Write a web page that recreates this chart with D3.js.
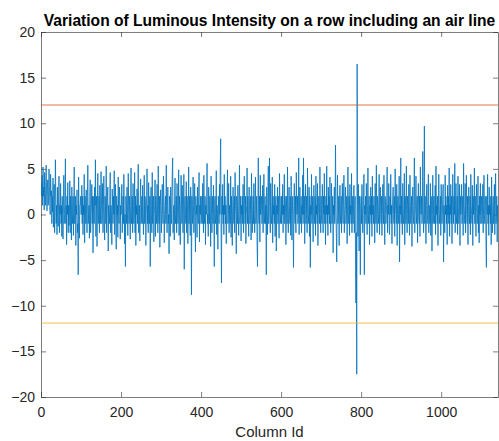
<!DOCTYPE html>
<html>
<head>
<meta charset="utf-8">
<script src="https://cdn.jsdelivr.net/npm/d3@7"></script>
<style>
  body { margin: 0; background: #fff; }
  svg { display: block; font-family: "Liberation Sans", Arial, sans-serif; }
  .axis text { font-size: 14px; fill: #262626; }
  .axis path, .axis line { stroke: #262626; stroke-width: 0.6; }
  .chart-title { font-size: 15.6px; font-weight: bold; fill: #000; }
  .axis-title { font-size: 15px; fill: #262626; }
</style>
</head>
<body>
<svg id="chart"></svg>
<script>
// luminous intensity variation, one value per column (column 1..)
const intensity = [
  3.4,2,4.3,1,5.2,2,3,0.5,4.6,2, 1,3.6,5.4,2,0.4,3,3.8,1,2,5, 3.2,1,0,4.4,2,2.6,-1,2,0.3,4, -1.4,1,3.3,-2,0,6,2,-1,1,-2.2, 3,0,-1.3,2,4.2,-2,1,0,3.4,-1,
  1,-2.4,2,0,-2.7,1,4.3,-1,0,2.4, 6.1,-1,1,-3.3,2,0,3.5,-2,1,-1.2, 0,3.7,-2,2,1,-2.8,3,0,-1,2, -2.3,1,5.2,-1,0,2,-3.4,1,0,2.7, -2,-1,-6.6,4.1,0,-2.6,1,1,2,0,
  0,3.2,-1,2,-2.2,1,0,4.4,-3.1,2, 1,-1,2.7,0,-2,2,5.4,-1,0,1, -2.6,2,3.8,-2,0,1,3.3,-1,2,-4.2, 0,2,-1,3,1,6,-2.4,0,2,-3.5, 1,4.5,-1,0,2,-2,3.2,1,-1,4.7,
  2,-1,0,3.4,-2,1,4.2,0,-2.8,2, 1,-1,5.3,-2,0,2,3,-4,1,0, -1,2,4.6,-2,1,0,-3.3,2.8,1,-1, 2,0,4.8,-2.2,1,3.3,-1,-3.8,2,0, 1,-2.5,4.1,0,-1,3,2,-2.7,1,0,
  1,3.3,-2,0,2,-1,4.4,1,-3.2,0, -5.7,2,1,-1,3,0,-2.3,4.5,1,-1, 2,0,-2.7,1,5.1,-1,0,2,-2,3.4, 1,-1,0,4.6,-2,2,-3.4,1,0,2.8, -1,2,5.5,-2,0,1,-2.9,2,3.9,-1,
  0,2,-1,3.2,1,-2.2,0,4.3,-1,2, 1,-3.4,0,2,5,-1,1,-2,3.5,0, -1,2,-5.7,1,3,0,-2,4.6,-1,1, 2,-3,0,1,3.8,-2.4,2,0,-1,3.3, 1,-2,5.3,0,-1,2,-3.6,1,2.7,0,
  -2,1,3.3,0,-1,4.2,2,-3.1,0,1, 2,-1,5.4,0,-2,1,3,-1,0,-4.3, 2,1,-2.4,3,0,-1,2,4.5,6.2,-2, 0,1,-2.8,2,4,-1,0,2,-2,3.4, 1,-1,0,4.9,-2.3,2,1,-3.3,0,4.3,
  2,-1,3.2,0,-2,1,4.4,-6,1,2, 0,-1,3.6,-2,2,1,-3.2,0,5.2,-1, 2,0,-2.3,3,1,-8.8,2,0,-1,4.1, 1,-2,0,3.4,-1,-4.1,2,0,1,-2.5, 3,0,-1,2,4.6,-3,1,0,2,-1,
  0,2,-1,3.4,1,-2,4.3,0,-1,2, -3.3,1,0,2,5.6,-1,0,-2.4,3,1, -1,2,0,-3.5,4.2,1,-2,0,2,-1, 3.2,0,-5.7,1,2,-1,0,4.8,-2.2,1, 0,-3.8,2,1,-1,3.3,0,5.3,8.3,-2,
  -7.5,2,0,3.3,-1,1,-2.2,4.4,0,2, -1,1,-3.2,0,2,4.9,-1,0,3.4,-2, 1,0,-1,4.2,-2.5,2,0,-3.4,1,3, 0,-1,2,-2,4.6,1,0,-4.3,2,1, -1,3.2,0,-2.3,1,5.4,-1,0,2,-2.9,
  1,0,2,-1,3.3,-2,0,4.2,1,-1, 2,-3.2,0,1,5.1,-1,2,0,-2.4,3, 1,-1,0,2,-2.8,4.5,1,-2,0,2, -1,3.4,0,-2,1,4.1,-1,0,2,-3.4, -5.7,1,6.2,0,-1,2,-3,4.3,0,1,
  2,-1,0,3.2,-2,1,4.4,-1,0,2, -1,1,-6.6,3,0,-2.2,2,5.3,-1,1, 6.2,0,-2,3.4,1,-1,0,4.1,-3.1,2, 0,1,-1,3.3,-2.4,0,2,-4,1,0, 3,-1,2,0,-2.6,4.5,1,-1,0,2,
  -1,2,0,3.3,-2,1,0,4.4,-1,2, 1,-3.3,0,2,-1,5.2,0,-2,1,3, 0,-1,2,-2.3,4.2,1,-2.8,0,2,-1, -5.8,1,3.4,0,-1,2,-2,4.6,1,0, 2,-1,0,6.2,-2.2,1,3,-1,0,2,
  -2,1,0,4.3,-1,6.2,0,2,-3.2,1, 3.3,-1,0,2,-2,5.1,1,-1,0,3, -2.4,2,-5.8,1,0,4.4,-1,2,0,-3, 1,3.2,0,-1,2,-2.3,4.2,0,1,-1, 3.4,-3.4,0,2,1,-1,5.2,0,-2,2,
  0,-1,3.3,1,-2,2,0,4.5,-1,1, -3.3,2,0,5.3,-1,1,-2.3,3,0,2, -1,4.1,0,-2,1,3.4,-1,0,2,-4.2, 1,0,3,-1,2,7.6,0,-2,-5.2,1, 4.3,-1,0,2,-3.4,1,3.2,0,-1,2,
  -2,1,3.4,0,-1,2,4.3,-2,0,1, 3,-1,0,2,-3.2,1,5.2,0,-1,2, -2.3,3.3,0,1,-1,4.5,-2,0,2,-1, 1,3.2,-2,0,2,-5,-9.7,-2,-17.5,16.5, 1,-2.4,3.3,0,-4,2,1,-6.6,0,2,
  -1,3.3,1,-2,0,2,4.4,-6.6,1,0, 2,-1,3.4,0,-2.2,1,5.1,-1,0,2, -3.3,1,0,3,-1,2,-2.4,4.2,0,1, -1,2,0,-3.1,3.4,1,-1,5.4,0,-2, 2,1,-1,0,4.4,-2.2,1,3,0,-1,
  2,-2.3,0,3.3,1,-1,4.3,0,-3.3,2, 1,-1,0,2,5.2,-2,1,0,3.4,-1, -2.2,2,0,4.4,-1,1,-3.2,0,2,3, 0,-1,2,-2.4,5,1,0,-1,3.3,-3.4, 1,2,0,-1,4.2,-5.2,1,0,6.2,-1,
  2,0,-2.2,3.4,1,-1,0,4.5,-3.3,2, 1,-1,5.3,0,-2,2,1,-1,3.3,0, -2.3,4.3,1,-1,0,2,-3.5,1,3,0, -1,2,6.2,-2,0,1,4.2,-1,0,2, -3.1,1,3.4,0,-1,2,-2.4,5.2,1,0,
  2,-1,0,6.9,1,-2,0,9.7,-1,2, 0,-3.2,1,3.3,-1,0,2,4.4,-2,1, 0,-1,3.4,-2.3,2,1,-4,0,4.3,-1, 1,2,-1,0,3.2,-2.2,5.3,0,1,-1, 2,-3.4,0,4.4,1,-1,0,2,-2.3,3.3,
  1,-1,0,2,3.3,-5.2,1,0,-2,4.3, 0,2,-1,1,-3.3,3.2,0,2,-1,5.1, -2.4,1,0,3.3,-1,2,-3.2,0,4.4,1, -1,2,0,5.6,-2,1,3.4,-1,0,2, -2.2,4.2,1,-1,0,3.3,-3.4,2,0,1,
  3.3,-1,0,2,-2.3,5.6,1,0,-1,3.4, -2,1,4.3,0,-1,2,-3.3,1,3,0, -1,2,-2.2,4.4,1,0,-1,3.2,-3.4,2, 0,1,5.1,-1,2,0,-2.4,3.3,1,-1, 0,4.2,-2,1,-3.1,2,0,3.4,-1,1,
  2,-1,0,3.3,-2,1,4.3,0,-1,2, 1,-3.2,-5.8,2,0,4.4,-1,1,-2.3,3, 0,1,-1,2,-3.3,4.1,0,-2,1,2, -1,0,3.3,-2.2,1,4.5,-1,0,2,-3, 1,0,-1,2
]

// threshold lines
const upperLimit = 12
const lowerLimit = -11.9

const xTicks = [0, 200, 400, 600, 800, 1000]
const yTicks = [-20, -15, -10, -5, 0, 5, 10, 15, 20]
const xMax = 1142

class LinePlot {

    constructor(_config, _data) {
        this.config = {
            parentElement: _config.parentElement,
            containerWidth: _config.containerWidth || 499,
            containerHeight: _config.containerHeight || 441,
            margin: _config.margin || {top: 32, right: 1, bottom: 44, left: 41},
        }
        this.data = _data
        this.initVis()
    }

    initVis() {
        let vis = this

        vis.width = vis.config.containerWidth - vis.config.margin.left - vis.config.margin.right;
        vis.height = vis.config.containerHeight - vis.config.margin.top - vis.config.margin.bottom;

        vis.xScale = d3.scaleLinear()
            .domain([0, xMax])
            .range([0, vis.width]);

        vis.yScale = d3.scaleLinear()
            .domain([-20, 20])
            .range([vis.height, 0]);

        // matlab style: ticks point inwards, box on all sides
        vis.xAxis = d3.axisBottom(vis.xScale)
            .tickValues(xTicks)
            .tickFormat(d3.format('d'))
            .tickSizeInner(-5)
            .tickSizeOuter(0)
            .tickPadding(10);

        vis.yAxis = d3.axisLeft(vis.yScale)
            .tickValues(yTicks)
            .tickSizeInner(-5)
            .tickSizeOuter(0)
            .tickPadding(6);

        vis.xAxisTop = d3.axisTop(vis.xScale)
            .tickValues(xTicks)
            .tickSizeInner(-5)
            .tickSizeOuter(0)
            .tickFormat('');

        vis.yAxisRight = d3.axisRight(vis.yScale)
            .tickValues(yTicks)
            .tickSizeInner(-5)
            .tickSizeOuter(0)
            .tickFormat('');

        vis.svg = d3.select(vis.config.parentElement)
            .attr('width', vis.config.containerWidth)
            .attr('height', vis.config.containerHeight)

        vis.chart = vis.svg.append('g')
            .attr('transform', `translate(${vis.config.margin.left},${vis.config.margin.top})`);

        vis.chart.append('clipPath')
            .attr('id', 'plot-clip')
          .append('rect')
            .attr('width', vis.width)
            .attr('height', vis.height);

        vis.xAxisG = vis.chart.append('g')
            .attr('class', 'axis x-axis')
            .attr('transform', `translate(0,${vis.height})`);

        vis.yAxisG = vis.chart.append('g')
            .attr('class', 'axis y-axis');

        vis.topAxisG = vis.chart.append('g')
            .attr('class', 'axis');

        vis.rightAxisG = vis.chart.append('g')
            .attr('class', 'axis')
            .attr('transform', `translate(${vis.width},0)`);

        vis.plotG = vis.chart.append('g')
            .attr('clip-path', 'url(#plot-clip)');

        vis.svg.append('text')
            .attr('class', 'chart-title')
            .attr('x', vis.config.margin.left + vis.width / 2)
            .attr('y', 26)
            .attr('text-anchor', 'middle')
            .text('Variation of Luminous Intensity on a row including an air line');

        vis.chart.append('text')
            .attr('class', 'axis-title')
            .attr('x', vis.width / 2)
            .attr('y', vis.height + 40)
            .attr('text-anchor', 'middle')
            .text('Column Id');

        vis.updateVis()
    }

    updateVis() {
        let vis = this
        vis.xValue = (d, i) => i + 1
        vis.yValue = d => d
        vis.renderVis()
    }

    renderVis() {
        let vis = this

        const line = d3.line()
            .x((d, i) => vis.xScale(vis.xValue(d, i)))
            .y(d => vis.yScale(vis.yValue(d)));

        vis.plotG.append('path')
            .datum(vis.data)
            .attr('fill', 'none')
            .attr('stroke', '#0072BD')
            .attr('stroke-width', 0.8)
            .attr('d', line);

        const limits = [
            {value: upperLimit, color: '#D95319'},
            {value: lowerLimit, color: '#EDB120'}
        ]

        vis.plotG.selectAll('.limit')
            .data(limits)
          .join('line')
            .attr('class', 'limit')
            .attr('x1', 0)
            .attr('x2', vis.width)
            .attr('y1', d => vis.yScale(d.value))
            .attr('y2', d => vis.yScale(d.value))
            .attr('stroke', d => d.color)
            .attr('stroke-width', 0.8);

        vis.xAxisG.call(vis.xAxis);
        vis.yAxisG.call(vis.yAxis);
        vis.topAxisG.call(vis.xAxisTop);
        vis.rightAxisG.call(vis.yAxisRight);
    }
}

new LinePlot({parentElement: '#chart'}, intensity)
</script>
</body>
</html>
